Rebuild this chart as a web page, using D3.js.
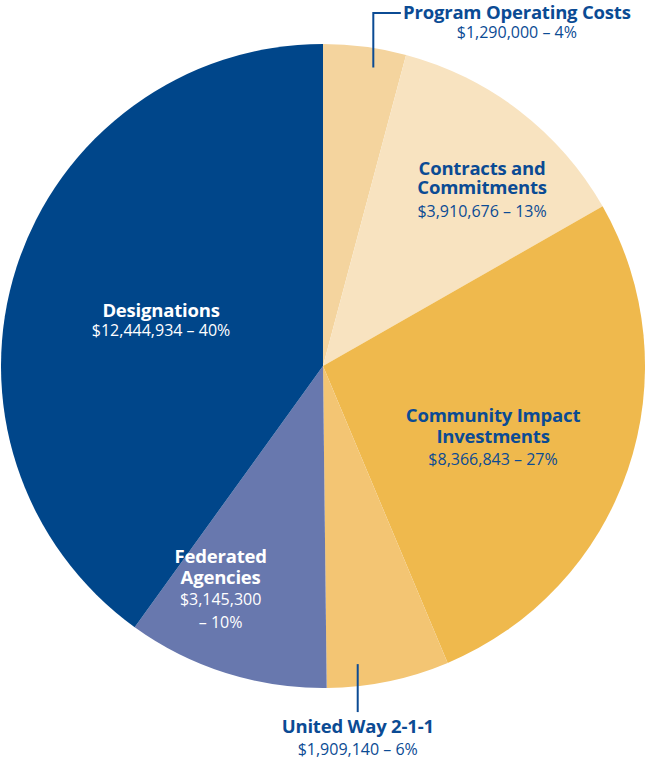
<!DOCTYPE html>
<html>
<head>
<meta charset="utf-8">
<script src="https://cdn.jsdelivr.net/npm/d3@7"></script>
<style>
  html, body { margin: 0; padding: 0; background: #fff; }
  svg text { font-family: "Open Sans", "Noto Sans", sans-serif; }
</style>
</head>
<body>
<div id="wrapper"></div>
<script>
// data, clockwise from 12 o'clock
const categories = [
  "Program Operating Costs",
  "Contracts and Commitments",
  "Community Impact Investments",
  "United Way 2-1-1",
  "Federated Agencies",
  "Designations"
]
const amounts = [1290000, 3910676, 8366843, 1909140, 3145300, 12444934]
const amountLabels = ["$1,290,000", "$3,910,676", "$8,366,843", "$1,909,140", "$3,145,300", "$12,444,934"]
const percentLabels = ["4%", "13%", "27%", "6%", "10%", "40%"]
// how each name is broken into lines on the chart
const nameLines = [
  ["Program Operating Costs"],
  ["Contracts and", "Commitments"],
  ["Community Impact", "Investments"],
  ["United Way 2-1-1"],
  ["Federated", "Agencies"],
  ["Designations"]
]
const sliceColors = ["#f4d49e", "#f8e3c0", "#efb94d", "#f3c573", "#6878ae", "#00468a"]

const drawPie = () => {
  let dimensions = { width: 646, height: 761 }
  dimensions.radius = 322
  dimensions.cx = 323
  dimensions.cy = 366

  const navy = "#0b4b94"
  const r = dimensions.radius

  const svg = d3.select("#wrapper")
    .append("svg")
      .attr("width", dimensions.width)
      .attr("height", dimensions.height)

  const bounds = svg.append("g")
    .attr("transform", `translate(${dimensions.cx},${dimensions.cy})`)

  const dataset = categories.map((c, i) => ({
    name: c,
    amount: amounts[i],
    amountLabel: amountLabels[i],
    pct: percentLabels[i],
    lines: nameLines[i],
    color: sliceColors[i]
  }))

  const pieGenerator = d3.pie()
    .value(d => d.amount)
    .sort(null)

  const arcs = pieGenerator(dataset)

  const arcGenerator = d3.arc()
    .innerRadius(0)
    .outerRadius(r)

  bounds.selectAll("path.slice")
    .data(arcs)
    .join("path")
      .attr("class", "slice")
      .attr("d", arcGenerator)
      .attr("fill", d => d.data.color)

  const polar = (angle, rad) => [Math.sin(angle) * rad, -Math.cos(angle) * rad]

  // label layout: offsets from the pie centre in radius units
  // step = gap between name lines, valGap = gap to the value line
  const labelSpots = [
    { x: 0.602, y: -1.078, step: 20, valGap: 19, color: navy, leader: "top" },
    { x: 0.494, y: -0.593, step: 19, valGap: 23, color: navy },
    { x: 0.528, y: 0.174, step: 21, valGap: 22, color: navy },
    { x: null, y: 1.140, step: 20, valGap: 22, color: navy, leader: "bottom" },
    { x: -0.318, y: 0.612, step: 21, valGap: 21, color: "#fff", split: true },
    { x: -0.503, y: -0.152, step: 20, valGap: 19, color: "#fff" }
  ]

  arcs.forEach((a, i) => {
    const spot = labelSpots[i]
    const d = a.data
    const span = a.endAngle - a.startAngle
    const g = bounds.append("g")

    let x = spot.x === null ? 0 : spot.x * r
    const y = spot.y * r

    if (spot.leader === "top") {
      // leader rises out of the slice then turns right to the label
      const [px, py] = polar(a.startAngle + span * 0.64, r * 0.94)
      g.append("path")
        .attr("d", `M${px},${py}V${y - 6}H${x - 116}`)
        .attr("fill", "none")
        .attr("stroke", navy)
        .attr("stroke-width", 2)
    }

    if (spot.leader === "bottom") {
      // straight leader down from the slice to the label
      const [px] = polar(a.startAngle + span * 0.75, r)
      x = px
      const topY = Math.sqrt(r * r - px * px) - 22
      g.append("line")
        .attr("x1", px).attr("x2", px)
        .attr("y1", topY).attr("y2", y - 21)
        .attr("stroke", navy)
        .attr("stroke-width", 2)
    }

    const text = g.append("text")
      .attr("x", x)
      .attr("y", y)
      .attr("text-anchor", "middle")
      .attr("fill", spot.color)

    d.lines.forEach((line, j) => {
      text.append("tspan")
        .attr("x", x)
        .attr("dy", j === 0 ? 0 : spot.step)
        .attr("font-weight", 700)
        .attr("font-size", 18.5)
        .attr("letter-spacing", -0.2)
        .text(line)
    })

    const valueLines = spot.split
      ? [d.amountLabel, `– ${d.pct}`]
      : [`${d.amountLabel} – ${d.pct}`]

    valueLines.forEach((line, j) => {
      text.append("tspan")
        .attr("x", x)
        .attr("dy", j === 0 ? spot.valGap : 23)
        .attr("font-size", 16)
        .text(line)
    })
  })
}

drawPie()
</script>
</body>
</html>
